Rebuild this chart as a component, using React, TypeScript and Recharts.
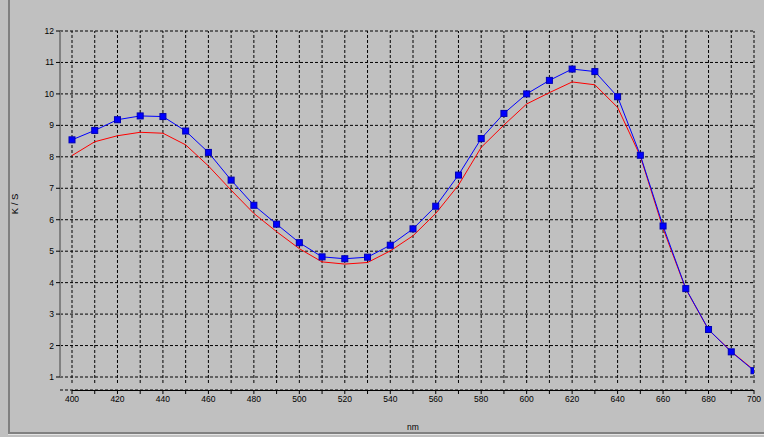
import { CartesianGrid, Label, Line, LineChart, ReferenceLine, XAxis, YAxis } from 'recharts'

// wavelength (nm) and K/S readings
const wavelengths = [
  400, 410, 420, 430, 440, 450, 460, 470, 480, 490, 500, 510, 520, 530, 540, 550,
  560, 570, 580, 590, 600, 610, 620, 630, 640, 650, 660, 670, 680, 690, 700,
]
const sampleKS = [
  8.54, 8.84, 9.18, 9.3, 9.28, 8.82, 8.14, 7.26, 6.46, 5.86, 5.27, 4.82, 4.76, 4.81, 5.19, 5.71,
  6.43, 7.42, 8.58, 9.38, 10.0, 10.43, 10.79, 10.71, 9.91, 8.05, 5.8, 3.81, 2.51, 1.8, 1.2,
]
const standardKS = [
  8.04, 8.48, 8.67, 8.78, 8.75, 8.38, 7.71, 6.94, 6.2, 5.62, 5.08, 4.66, 4.59, 4.64, 5.01, 5.49,
  6.2, 7.1, 8.3, 9.01, 9.68, 10.04, 10.38, 10.29, 9.57, 8.02, 5.72, 3.8, 2.5, 1.81, 1.22,
]

const xTicks = [
  400, 410, 420, 430, 440, 450, 460, 470, 480, 490, 500, 510, 520, 530, 540, 550,
  560, 570, 580, 590, 600, 610, 620, 630, 640, 650, 660, 670, 680, 690, 700,
]
const yTicks = [1, 2, 3, 4, 5, 6, 7, 8, 9, 10, 11, 12]

// axis ranges: a bit of slack on the left and bottom so the axes sit apart from the grid
const X_MIN = 394.72
const X_MAX = 700
const Y_MIN = 0.587
const Y_MAX = 12
const GRID_FLOOR = 0.81

const data = wavelengths.map((nm, i) => ({
  nm,
  sample: sampleKS[i],
  standard: standardKS[i],
}))

const FONT = '"Liberation Sans", Arial, sans-serif'
const tickStyle = { fontSize: 8.5, fill: '#000', fontFamily: FONT }

// eslint-disable-next-line @typescript-eslint/no-explicit-any
const SquareDot = (props: any) => {
  const { cx, cy, index } = props
  if (cx == null || cy == null) return <g key={`sq-${index}`} />
  return (
    <rect
      key={`sq-${index}`}
      x={cx - 3}
      y={cy - 3}
      width={6}
      height={6}
      fill='#0000ff'
      stroke='#0000b4'
      strokeWidth={1}
    />
  )
}

// eslint-disable-next-line @typescript-eslint/no-explicit-any
const YTitle = (props: any) => {
  const { x, y, height } = props.viewBox
  const cx = x + 14.5
  const cy = y + (height - 13) / 2
  return (
    <text
      x={cx}
      y={cy}
      transform={`rotate(-90, ${cx}, ${cy})`}
      textAnchor='middle'
      dominantBaseline='central'
      fontSize={9.5}
      fontFamily={FONT}
      fill='#000'
    >
      K / S
    </text>
  )
}

// eslint-disable-next-line @typescript-eslint/no-explicit-any
const XTitle = (props: any) => {
  const { x, y, width } = props.viewBox
  return (
    <text
      x={x + 12 + (width - 12) / 2}
      y={y + 37}
      textAnchor='middle'
      dominantBaseline='central'
      fontSize={8.5}
      fontFamily={FONT}
      fill='#000'
    >
      nm
    </text>
  )
}

export default function App() {
  return (
    <div
      style={{
        position: 'absolute',
        left: 0,
        top: 0,
        width: 764,
        height: 437,
        background: '#c0c0c0',
        overflow: 'hidden',
      }}
    >
      {/* sunken panel edge */}
      <div
        style={{
          position: 'absolute',
          left: 8,
          top: -2,
          width: 800,
          height: 434,
          borderLeft: '2px solid #808080',
          borderBottom: '2px solid #808080',
        }}
      />
      <div style={{ position: 'absolute', left: 8, top: 434, width: 800, height: 1, background: '#e4e4e4' }} />
      <div style={{ position: 'absolute', left: 0, top: 0 }}>
        <LineChart
          width={764}
          height={437}
          data={data}
          margin={{ top: 31, right: 10, left: 0, bottom: 17 }}
        >
          <CartesianGrid vertical={false} stroke='#000' strokeDasharray='3 2' />
          {xTicks.map((t) => (
            <ReferenceLine
              key={`vg-${t}`}
              segment={[
                { x: t, y: GRID_FLOOR },
                { x: t, y: Y_MAX },
              ]}
              stroke='#000'
              strokeDasharray='3 2'
            />
          ))}
          {/* y axis rule, 1..12 only */}
          <ReferenceLine
            segment={[
              { x: X_MIN + 0.01, y: 1 },
              { x: X_MIN + 0.01, y: Y_MAX },
            ]}
            ifOverflow='visible'
            stroke='#808080'
            strokeWidth={2}
          />
          {/* x axis rule, 400..700 */}
          <ReferenceLine
            segment={[
              { x: 400, y: Y_MIN - 0.016 },
              { x: 700, y: Y_MIN - 0.016 },
            ]}
            ifOverflow='visible'
            stroke='#000'
            strokeWidth={1}
          />
          <XAxis
            dataKey='nm'
            type='number'
            domain={[X_MIN, X_MAX]}
            allowDataOverflow
            ticks={xTicks}
            interval={0}
            tickFormatter={(v: number) => (v % 20 === 0 ? String(v) : '')}
            axisLine={false}
            tickLine={{ stroke: '#000' }}
            tickSize={4}
            tick={tickStyle}
            height={30}
          >
            <Label content={<XTitle />} />
          </XAxis>
          <YAxis
            type='number'
            domain={[Y_MIN, Y_MAX]}
            allowDataOverflow
            ticks={yTicks}
            interval={0}
            axisLine={false}
            tickLine={{ stroke: '#000' }}
            tickSize={4}
            tick={tickStyle}
            width={60}
          >
            <Label content={<YTitle />} />
          </YAxis>
          <Line
            type='linear'
            dataKey='standard'
            stroke='#ff0000'
            strokeWidth={1}
            dot={false}
            activeDot={false}
            isAnimationActive={false}
          />
          <Line
            type='linear'
            dataKey='sample'
            stroke='#0000ff'
            strokeWidth={1}
            dot={SquareDot}
            activeDot={false}
            isAnimationActive={false}
          />
        </LineChart>
      </div>
    </div>
  )
}
